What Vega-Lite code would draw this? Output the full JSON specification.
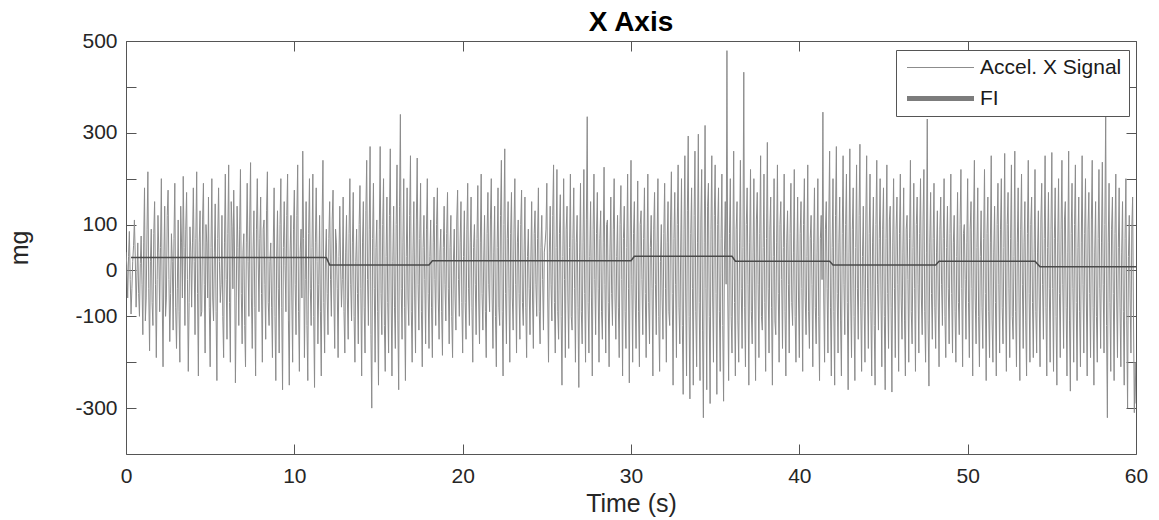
{
"$schema":"https://vega.github.io/schema/vega-lite/v6.json",
"width":1010,"height":413,
"autosize":"none",
"padding":{"left":126,"top":41,"right":23,"bottom":66},
"background":"white",
"config":{"font":"Liberation Sans","view":{"stroke":"#555555","strokeWidth":1},
"axis":{"labelFont":"Liberation Sans","titleFont":"Liberation Sans","labelColor":"#262626","titleColor":"#262626","grid":false,"domain":false,"tickColor":"#555555","tickSize":-10,"labelFontSize":21,"titleFontSize":25,"titleFontWeight":"normal"}},
"title":{"text":"X Axis","fontSize":28,"fontWeight":"bold","font":"Liberation Sans","color":"#000000","offset":-7},
"datasets":{
"fi":[{"t":0.3,"v":28},{"t":11.9,"v":28},{"t":12.1,"v":12},{"t":18.0,"v":12},{"t":18.2,"v":21},{"t":30.0,"v":21},{"t":30.2,"v":31},{"t":36.0,"v":31},{"t":36.2,"v":20},{"t":41.8,"v":20},{"t":42.0,"v":12},{"t":48.1,"v":12},{"t":48.3,"v":20},{"t":54.0,"v":20},{"t":54.3,"v":8},{"t":60,"v":8}],
"sig":[
{"t":0,"v":40},{"t":0.05,"v":10},{"t":0.1,"v":-60},{"t":0.15,"v":30},{"t":0.2,"v":85},{"t":0.25,"v":-20},{"t":0.3,"v":-95},{"t":0.35,"v":-40},{"t":0.4,"v":20},{"t":0.45,"v":55},{"t":0.5,"v":110},{"t":0.55,"v":30},{"t":0.6,"v":-80},{"t":0.65,"v":-10},{"t":0.7,"v":60},{"t":0.75,"v":-50},{"t":0.8,"v":-100},{"t":0.85,"v":15},{"t":0.9,"v":75},{"t":0.95,"v":-30},
{"t":1,"v":-140},{"t":1.05,"v":60},{"t":1.1,"v":180},{"t":1.15,"v":-110},{"t":1.2,"v":-60},{"t":1.25,"v":90},{"t":1.3,"v":215},{"t":1.35,"v":-40},{"t":1.4,"v":-175},{"t":1.45,"v":20},{"t":1.5,"v":90},{"t":1.55,"v":-70},{"t":1.6,"v":-120},{"t":1.65,"v":80},{"t":1.7,"v":150},{"t":1.75,"v":-30},{"t":1.8,"v":-190},{"t":1.85,"v":-20},{"t":1.9,"v":120},{"t":1.95,"v":40},
{"t":2,"v":-90},{"t":2.05,"v":50},{"t":2.1,"v":200},{"t":2.15,"v":-60},{"t":2.2,"v":-210},{"t":2.25,"v":30},{"t":2.3,"v":140},{"t":2.35,"v":-100},{"t":2.4,"v":-60},{"t":2.45,"v":120},{"t":2.5,"v":175},{"t":2.55,"v":-20},{"t":2.6,"v":-155},{"t":2.65,"v":-50},{"t":2.7,"v":80},{"t":2.75,"v":20},{"t":2.8,"v":-130},{"t":2.85,"v":70},{"t":2.9,"v":190},{"t":2.95,"v":-80},
{"t":3,"v":-170},{"t":3.05,"v":-40},{"t":3.1,"v":110},{"t":3.15,"v":-90},{"t":3.2,"v":-200},{"t":3.25,"v":140},{"t":3.3,"v":60},{"t":3.35,"v":-60},{"t":3.4,"v":205},{"t":3.45,"v":50},{"t":3.5,"v":-120},{"t":3.55,"v":90},{"t":3.6,"v":170},{"t":3.65,"v":-20},{"t":3.7,"v":-220},{"t":3.75,"v":-70},{"t":3.8,"v":95},{"t":3.85,"v":40},{"t":3.9,"v":-80},{"t":3.95,"v":60},
{"t":4,"v":180},{"t":4.05,"v":20},{"t":4.1,"v":-140},{"t":4.15,"v":70},{"t":4.2,"v":215},{"t":4.25,"v":-50},{"t":4.3,"v":-230},{"t":4.35,"v":60},{"t":4.4,"v":130},{"t":4.45,"v":-100},{"t":4.5,"v":-90},{"t":4.55,"v":110},{"t":4.6,"v":190},{"t":4.65,"v":-30},{"t":4.7,"v":-180},{"t":4.75,"v":100},{"t":4.8,"v":60},{"t":4.85,"v":-60},{"t":4.9,"v":160},{"t":4.95,"v":-80},
{"t":5,"v":-210},{"t":5.05,"v":50},{"t":5.1,"v":200},{"t":5.15,"v":-60},{"t":5.2,"v":-110},{"t":5.25,"v":40},{"t":5.3,"v":145},{"t":5.35,"v":-90},{"t":5.4,"v":-240},{"t":5.45,"v":70},{"t":5.5,"v":180},{"t":5.55,"v":20},{"t":5.6,"v":-70},{"t":5.65,"v":-30},{"t":5.7,"v":120},{"t":5.75,"v":-100},{"t":5.8,"v":-190},{"t":5.85,"v":60},{"t":5.9,"v":210},{"t":5.95,"v":-20},
{"t":6,"v":-150},{"t":6.05,"v":80},{"t":6.1,"v":230},{"t":6.15,"v":-70},{"t":6.2,"v":-200},{"t":6.25,"v":150},{"t":6.3,"v":95},{"t":6.35,"v":-40},{"t":6.4,"v":175},{"t":6.45,"v":30},{"t":6.5,"v":-245},{"t":6.55,"v":-60},{"t":6.6,"v":140},{"t":6.65,"v":50},{"t":6.7,"v":-120},{"t":6.75,"v":90},{"t":6.8,"v":220},{"t":6.85,"v":-50},{"t":6.9,"v":-160},{"t":6.95,"v":40},
{"t":7,"v":80},{"t":7.05,"v":-120},{"t":7.1,"v":-210},{"t":7.15,"v":60},{"t":7.2,"v":190},{"t":7.25,"v":20},{"t":7.3,"v":-100},{"t":7.35,"v":110},{"t":7.4,"v":235},{"t":7.45,"v":-60},{"t":7.5,"v":-170},{"t":7.55,"v":40},{"t":7.6,"v":130},{"t":7.65,"v":-80},{"t":7.7,"v":-230},{"t":7.75,"v":90},{"t":7.8,"v":200},{"t":7.85,"v":30},{"t":7.9,"v":-90},{"t":7.95,"v":70},
{"t":8,"v":160},{"t":8.05,"v":-50},{"t":8.1,"v":-200},{"t":8.15,"v":90},{"t":8.2,"v":110},{"t":8.25,"v":-30},{"t":8.3,"v":-150},{"t":8.35,"v":130},{"t":8.4,"v":215},{"t":8.45,"v":-70},{"t":8.5,"v":-120},{"t":8.55,"v":20},{"t":8.6,"v":60},{"t":8.65,"v":-80},{"t":8.7,"v":-190},{"t":8.75,"v":60},{"t":8.8,"v":180},{"t":8.85,"v":-100},{"t":8.9,"v":-240},{"t":8.95,"v":30},
{"t":9,"v":130},{"t":9.05,"v":-40},{"t":9.1,"v":-180},{"t":9.15,"v":100},{"t":9.2,"v":200},{"t":9.25,"v":-80},{"t":9.3,"v":-260},{"t":9.35,"v":50},{"t":9.4,"v":150},{"t":9.45,"v":10},{"t":9.5,"v":-90},{"t":9.55,"v":120},{"t":9.6,"v":210},{"t":9.65,"v":-110},{"t":9.7,"v":-250},{"t":9.75,"v":40},{"t":9.8,"v":120},{"t":9.85,"v":-60},{"t":9.9,"v":-200},{"t":9.95,"v":90},
{"t":10,"v":175},{"t":10.05,"v":-30},{"t":10.1,"v":-140},{"t":10.15,"v":120},{"t":10.2,"v":230},{"t":10.25,"v":-90},{"t":10.3,"v":-220},{"t":10.35,"v":40},{"t":10.4,"v":90},{"t":10.45,"v":-60},{"t":10.5,"v":260},{"t":10.55,"v":70},{"t":10.6,"v":-190},{"t":10.65,"v":-20},{"t":10.7,"v":150},{"t":10.75,"v":-120},{"t":10.8,"v":-240},{"t":10.85,"v":80},{"t":10.9,"v":200},{"t":10.95,"v":-40},
{"t":11,"v":-120},{"t":11.05,"v":50},{"t":11.1,"v":210},{"t":11.15,"v":-100},{"t":11.2,"v":-255},{"t":11.25,"v":60},{"t":11.3,"v":180},{"t":11.35,"v":20},{"t":11.4,"v":-160},{"t":11.45,"v":-30},{"t":11.5,"v":120},{"t":11.55,"v":-90},{"t":11.6,"v":-230},{"t":11.65,"v":110},{"t":11.7,"v":240},{"t":11.75,"v":-70},{"t":11.8,"v":-180},{"t":11.85,"v":30},{"t":11.9,"v":90},{"t":11.95,"v":-50},
{"t":12,"v":-140},{"t":12.05,"v":70},{"t":12.1,"v":150},{"t":12.15,"v":-20},{"t":12.2,"v":-100},{"t":12.25,"v":110},{"t":12.3,"v":175},{"t":12.35,"v":-60},{"t":12.4,"v":-170},{"t":12.45,"v":90},{"t":12.5,"v":60},{"t":12.55,"v":-40},{"t":12.6,"v":-190},{"t":12.65,"v":30},{"t":12.7,"v":140},{"t":12.75,"v":10},{"t":12.8,"v":-80},{"t":12.85,"v":-20},{"t":12.9,"v":160},{"t":12.95,"v":-90},
{"t":13,"v":-180},{"t":13.05,"v":40},{"t":13.1,"v":120},{"t":13.15,"v":-60},{"t":13.2,"v":-150},{"t":13.25,"v":80},{"t":13.3,"v":200},{"t":13.35,"v":-30},{"t":13.4,"v":-110},{"t":13.45,"v":60},{"t":13.5,"v":170},{"t":13.55,"v":-100},{"t":13.6,"v":-200},{"t":13.65,"v":20},{"t":13.7,"v":90},{"t":13.75,"v":-50},{"t":13.8,"v":-160},{"t":13.85,"v":100},{"t":13.9,"v":185},{"t":13.95,"v":-40},
{"t":14,"v":-230},{"t":14.05,"v":60},{"t":14.1,"v":150},{"t":14.15,"v":-80},{"t":14.2,"v":-180},{"t":14.25,"v":130},{"t":14.3,"v":240},{"t":14.35,"v":-20},{"t":14.4,"v":-120},{"t":14.45,"v":90},{"t":14.5,"v":270},{"t":14.55,"v":-140},{"t":14.6,"v":-300},{"t":14.65,"v":70},{"t":14.7,"v":190},{"t":14.75,"v":-40},{"t":14.8,"v":-200},{"t":14.85,"v":50},{"t":14.9,"v":110},{"t":14.95,"v":-90},
{"t":15,"v":-250},{"t":15.05,"v":90},{"t":15.1,"v":270},{"t":15.15,"v":-50},{"t":15.2,"v":-140},{"t":15.25,"v":100},{"t":15.3,"v":200},{"t":15.35,"v":-120},{"t":15.4,"v":-220},{"t":15.45,"v":30},{"t":15.5,"v":160},{"t":15.55,"v":-70},{"t":15.6,"v":-180},{"t":15.65,"v":120},{"t":15.7,"v":265},{"t":15.75,"v":-60},{"t":15.8,"v":-230},{"t":15.85,"v":20},{"t":15.9,"v":140},{"t":15.95,"v":-80},
{"t":16,"v":-170},{"t":16.05,"v":100},{"t":16.1,"v":230},{"t":16.15,"v":-110},{"t":16.2,"v":-260},{"t":16.25,"v":140},{"t":16.3,"v":340},{"t":16.35,"v":-40},{"t":16.4,"v":-150},{"t":16.45,"v":60},{"t":16.5,"v":200},{"t":16.55,"v":-80},{"t":16.6,"v":-240},{"t":16.65,"v":30},{"t":16.7,"v":180},{"t":16.75,"v":-60},{"t":16.8,"v":-120},{"t":16.85,"v":120},{"t":16.9,"v":250},{"t":16.95,"v":-90},
{"t":17,"v":-200},{"t":17.05,"v":40},{"t":17.1,"v":150},{"t":17.15,"v":-60},{"t":17.2,"v":-180},{"t":17.25,"v":110},{"t":17.3,"v":245},{"t":17.35,"v":-30},{"t":17.4,"v":-130},{"t":17.45,"v":70},{"t":17.5,"v":190},{"t":17.55,"v":-90},{"t":17.6,"v":-210},{"t":17.65,"v":50},{"t":17.7,"v":120},{"t":17.75,"v":-20},{"t":17.8,"v":-160},{"t":17.85,"v":90},{"t":17.9,"v":200},{"t":17.95,"v":-50},
{"t":18,"v":-170},{"t":18.05,"v":30},{"t":18.1,"v":110},{"t":18.15,"v":-80},{"t":18.2,"v":-190},{"t":18.25,"v":60},{"t":18.3,"v":160},{"t":18.35,"v":-20},{"t":18.4,"v":-120},{"t":18.45,"v":100},{"t":18.5,"v":180},{"t":18.55,"v":-60},{"t":18.6,"v":-150},{"t":18.65,"v":40},{"t":18.7,"v":90},{"t":18.75,"v":-90},{"t":18.8,"v":-185},{"t":18.85,"v":50},{"t":18.9,"v":140},{"t":18.95,"v":-30},
{"t":19,"v":-110},{"t":19.05,"v":80},{"t":19.1,"v":170},{"t":19.15,"v":-40},{"t":19.2,"v":-160},{"t":19.25,"v":50},{"t":19.3,"v":120},{"t":19.35,"v":-100},{"t":19.4,"v":-190},{"t":19.45,"v":20},{"t":19.5,"v":90},{"t":19.55,"v":-60},{"t":19.6,"v":-130},{"t":19.65,"v":110},{"t":19.7,"v":175},{"t":19.75,"v":-20},{"t":19.8,"v":-100},{"t":19.85,"v":60},{"t":19.9,"v":150},{"t":19.95,"v":-70},
{"t":20,"v":-180},{"t":20.05,"v":30},{"t":20.1,"v":130},{"t":20.15,"v":-70},{"t":20.2,"v":-150},{"t":20.25,"v":90},{"t":20.3,"v":190},{"t":20.35,"v":-40},{"t":20.4,"v":-120},{"t":20.45,"v":60},{"t":20.5,"v":160},{"t":20.55,"v":-80},{"t":20.6,"v":-200},{"t":20.65,"v":50},{"t":20.7,"v":100},{"t":20.75,"v":-30},{"t":20.8,"v":-140},{"t":20.85,"v":70},{"t":20.9,"v":185},{"t":20.95,"v":-60},
{"t":21,"v":-160},{"t":21.05,"v":60},{"t":21.1,"v":210},{"t":21.15,"v":-50},{"t":21.2,"v":-130},{"t":21.25,"v":20},{"t":21.3,"v":120},{"t":21.35,"v":-90},{"t":21.4,"v":-190},{"t":21.45,"v":80},{"t":21.5,"v":170},{"t":21.55,"v":-30},{"t":21.6,"v":-90},{"t":21.65,"v":110},{"t":21.7,"v":200},{"t":21.75,"v":-60},{"t":21.8,"v":-170},{"t":21.85,"v":40},{"t":21.9,"v":140},{"t":21.95,"v":-100},
{"t":22,"v":-210},{"t":22.05,"v":50},{"t":22.1,"v":180},{"t":22.15,"v":-80},{"t":22.2,"v":-120},{"t":22.25,"v":120},{"t":22.3,"v":240},{"t":22.35,"v":-90},{"t":22.4,"v":-230},{"t":22.45,"v":100},{"t":22.5,"v":265},{"t":22.55,"v":-50},{"t":22.6,"v":-160},{"t":22.65,"v":70},{"t":22.7,"v":150},{"t":22.75,"v":-40},{"t":22.8,"v":-200},{"t":22.85,"v":80},{"t":22.9,"v":170},{"t":22.95,"v":-60},
{"t":23,"v":-130},{"t":23.05,"v":90},{"t":23.1,"v":200},{"t":23.15,"v":-30},{"t":23.2,"v":-180},{"t":23.25,"v":60},{"t":23.3,"v":110},{"t":23.35,"v":-50},{"t":23.4,"v":-150},{"t":23.45,"v":100},{"t":23.5,"v":175},{"t":23.55,"v":-70},{"t":23.6,"v":-120},{"t":23.65,"v":40},{"t":23.7,"v":160},{"t":23.75,"v":-80},{"t":23.8,"v":-190},{"t":23.85,"v":30},{"t":23.9,"v":90},{"t":23.95,"v":-40},
{"t":24,"v":-140},{"t":24.05,"v":20},{"t":24.1,"v":150},{"t":24.15,"v":-60},{"t":24.2,"v":-170},{"t":24.25,"v":80},{"t":24.3,"v":130},{"t":24.35,"v":-30},{"t":24.4,"v":-100},{"t":24.45,"v":70},{"t":24.5,"v":180},{"t":24.55,"v":-90},{"t":24.6,"v":-160},{"t":24.65,"v":50},{"t":24.7,"v":120},{"t":24.75,"v":-20},{"t":24.8,"v":-130},{"t":24.85,"v":40},{"t":24.9,"v":60},{"t":24.95,"v":90},
{"t":25,"v":190},{"t":25.05,"v":-60},{"t":25.1,"v":-200},{"t":25.15,"v":40},{"t":25.2,"v":140},{"t":25.25,"v":-30},{"t":25.3,"v":-110},{"t":25.35,"v":120},{"t":25.4,"v":230},{"t":25.45,"v":-70},{"t":25.5,"v":-180},{"t":25.55,"v":50},{"t":25.6,"v":220},{"t":25.65,"v":-90},{"t":25.7,"v":-150},{"t":25.75,"v":80},{"t":25.8,"v":165},{"t":25.85,"v":-100},{"t":25.9,"v":-250},{"t":25.95,"v":30},
{"t":26,"v":200},{"t":26.05,"v":-20},{"t":26.1,"v":-190},{"t":26.15,"v":90},{"t":26.2,"v":140},{"t":26.25,"v":-60},{"t":26.3,"v":-170},{"t":26.35,"v":50},{"t":26.4,"v":210},{"t":26.45,"v":-100},{"t":26.5,"v":-130},{"t":26.55,"v":70},{"t":26.6,"v":180},{"t":26.65,"v":-40},{"t":26.7,"v":-200},{"t":26.75,"v":60},{"t":26.8,"v":120},{"t":26.85,"v":-80},{"t":26.9,"v":-255},{"t":26.95,"v":40},
{"t":27,"v":190},{"t":27.05,"v":-90},{"t":27.1,"v":-160},{"t":27.15,"v":60},{"t":27.2,"v":220},{"t":27.25,"v":-50},{"t":27.3,"v":-200},{"t":27.35,"v":110},{"t":27.4,"v":335},{"t":27.45,"v":-70},{"t":27.5,"v":-180},{"t":27.55,"v":30},{"t":27.6,"v":150},{"t":27.65,"v":-60},{"t":27.7,"v":-230},{"t":27.75,"v":90},{"t":27.8,"v":210},{"t":27.85,"v":-20},{"t":27.9,"v":-140},{"t":27.95,"v":80},
{"t":28,"v":170},{"t":28.05,"v":-40},{"t":28.1,"v":-200},{"t":28.15,"v":70},{"t":28.2,"v":130},{"t":28.25,"v":-90},{"t":28.3,"v":-150},{"t":28.35,"v":60},{"t":28.4,"v":225},{"t":28.45,"v":-30},{"t":28.5,"v":-180},{"t":28.55,"v":100},{"t":28.6,"v":110},{"t":28.65,"v":-70},{"t":28.7,"v":-210},{"t":28.75,"v":40},{"t":28.8,"v":160},{"t":28.85,"v":-50},{"t":28.9,"v":-120},{"t":28.95,"v":90},
{"t":29,"v":200},{"t":29.05,"v":-60},{"t":29.1,"v":-150},{"t":29.15,"v":30},{"t":29.2,"v":120},{"t":29.25,"v":-80},{"t":29.3,"v":-190},{"t":29.35,"v":100},{"t":29.4,"v":185},{"t":29.45,"v":-20},{"t":29.5,"v":-230},{"t":29.55,"v":70},{"t":29.6,"v":140},{"t":29.65,"v":-90},{"t":29.7,"v":-170},{"t":29.75,"v":50},{"t":29.8,"v":210},{"t":29.85,"v":-40},{"t":29.9,"v":-245},{"t":29.95,"v":60},
{"t":30,"v":240},{"t":30.05,"v":-30},{"t":30.1,"v":-200},{"t":30.15,"v":80},{"t":30.2,"v":150},{"t":30.25,"v":-60},{"t":30.3,"v":-170},{"t":30.35,"v":40},{"t":30.4,"v":195},{"t":30.45,"v":-90},{"t":30.5,"v":-210},{"t":30.55,"v":100},{"t":30.6,"v":130},{"t":30.65,"v":-20},{"t":30.7,"v":-140},{"t":30.75,"v":70},{"t":30.8,"v":180},{"t":30.85,"v":-50},{"t":30.9,"v":-190},{"t":30.95,"v":30},
{"t":31,"v":210},{"t":31.05,"v":-70},{"t":31.1,"v":-160},{"t":31.15,"v":50},{"t":31.2,"v":120},{"t":31.25,"v":-40},{"t":31.3,"v":-230},{"t":31.35,"v":90},{"t":31.4,"v":170},{"t":31.45,"v":-30},{"t":31.5,"v":-140},{"t":31.55,"v":60},{"t":31.6,"v":200},{"t":31.65,"v":-100},{"t":31.7,"v":-220},{"t":31.75,"v":20},{"t":31.8,"v":100},{"t":31.85,"v":-60},{"t":31.9,"v":-150},{"t":31.95,"v":80},
{"t":32,"v":190},{"t":32.05,"v":-40},{"t":32.1,"v":-200},{"t":32.15,"v":60},{"t":32.2,"v":150},{"t":32.25,"v":-90},{"t":32.3,"v":-120},{"t":32.35,"v":110},{"t":32.4,"v":215},{"t":32.45,"v":-50},{"t":32.5,"v":-250},{"t":32.55,"v":70},{"t":32.6,"v":170},{"t":32.65,"v":-30},{"t":32.7,"v":-190},{"t":32.75,"v":100},{"t":32.8,"v":230},{"t":32.85,"v":-80},{"t":32.9,"v":-160},{"t":32.95,"v":40},
{"t":33,"v":200},{"t":33.05,"v":-120},{"t":33.1,"v":-270},{"t":33.15,"v":90},{"t":33.2,"v":250},{"t":33.25,"v":-60},{"t":33.3,"v":-230},{"t":33.35,"v":130},{"t":33.4,"v":293},{"t":33.45,"v":-100},{"t":33.5,"v":-280},{"t":33.55,"v":80},{"t":33.6,"v":180},{"t":33.65,"v":-40},{"t":33.7,"v":-250},{"t":33.75,"v":120},{"t":33.8,"v":260},{"t":33.85,"v":-90},{"t":33.9,"v":-210},{"t":33.95,"v":60},
{"t":34,"v":297},{"t":34.05,"v":-70},{"t":34.1,"v":-240},{"t":34.15,"v":110},{"t":34.2,"v":220},{"t":34.25,"v":-130},{"t":34.3,"v":-321},{"t":34.35,"v":60},{"t":34.4,"v":316},{"t":34.45,"v":-40},{"t":34.5,"v":-260},{"t":34.55,"v":140},{"t":34.6,"v":190},{"t":34.65,"v":-100},{"t":34.7,"v":-290},{"t":34.75,"v":90},{"t":34.8,"v":250},{"t":34.85,"v":-60},{"t":34.9,"v":-200},{"t":34.95,"v":120},
{"t":35,"v":230},{"t":35.05,"v":-50},{"t":35.1,"v":-270},{"t":35.15,"v":100},{"t":35.2,"v":180},{"t":35.25,"v":-90},{"t":35.3,"v":-220},{"t":35.35,"v":70},{"t":35.4,"v":210},{"t":35.45,"v":-120},{"t":35.5,"v":-285},{"t":35.55,"v":40},{"t":35.6,"v":150},{"t":35.65,"v":-30},{"t":35.7,"v":479},{"t":35.75,"v":-60},{"t":35.8,"v":-240},{"t":35.85,"v":80},{"t":35.9,"v":200},{"t":35.95,"v":-100},
{"t":36,"v":-180},{"t":36.05,"v":40},{"t":36.1,"v":260},{"t":36.15,"v":-70},{"t":36.2,"v":-230},{"t":36.25,"v":90},{"t":36.3,"v":150},{"t":36.35,"v":-110},{"t":36.4,"v":-200},{"t":36.45,"v":60},{"t":36.5,"v":240},{"t":36.55,"v":-40},{"t":36.6,"v":-170},{"t":36.65,"v":50},{"t":36.7,"v":432},{"t":36.75,"v":-80},{"t":36.8,"v":-210},{"t":36.85,"v":100},{"t":36.9,"v":180},{"t":36.95,"v":-30},
{"t":37,"v":-250},{"t":37.05,"v":60},{"t":37.1,"v":220},{"t":37.15,"v":-90},{"t":37.2,"v":-160},{"t":37.25,"v":40},{"t":37.3,"v":200},{"t":37.35,"v":-60},{"t":37.4,"v":-240},{"t":37.45,"v":110},{"t":37.5,"v":170},{"t":37.55,"v":-30},{"t":37.6,"v":-190},{"t":37.65,"v":80},{"t":37.7,"v":250},{"t":37.75,"v":-100},{"t":37.8,"v":-130},{"t":37.85,"v":50},{"t":37.9,"v":210},{"t":37.95,"v":-70},
{"t":38,"v":-220},{"t":38.05,"v":70},{"t":38.1,"v":279},{"t":38.15,"v":-40},{"t":38.2,"v":-180},{"t":38.25,"v":90},{"t":38.3,"v":160},{"t":38.35,"v":-80},{"t":38.4,"v":-250},{"t":38.45,"v":30},{"t":38.5,"v":200},{"t":38.55,"v":-110},{"t":38.6,"v":-140},{"t":38.65,"v":60},{"t":38.7,"v":230},{"t":38.75,"v":-50},{"t":38.8,"v":-200},{"t":38.85,"v":100},{"t":38.9,"v":150},{"t":38.95,"v":-20},
{"t":39,"v":-170},{"t":39.05,"v":50},{"t":39.1,"v":210},{"t":39.15,"v":-90},{"t":39.2,"v":-230},{"t":39.25,"v":60},{"t":39.3,"v":130},{"t":39.35,"v":-30},{"t":39.4,"v":-180},{"t":39.45,"v":80},{"t":39.5,"v":190},{"t":39.55,"v":-70},{"t":39.6,"v":-120},{"t":39.65,"v":40},{"t":39.7,"v":220},{"t":39.75,"v":-100},{"t":39.8,"v":-200},{"t":39.85,"v":20},{"t":39.9,"v":160},{"t":39.95,"v":-60},
{"t":40,"v":-190},{"t":40.05,"v":80},{"t":40.1,"v":150},{"t":40.15,"v":-40},{"t":40.2,"v":-220},{"t":40.25,"v":100},{"t":40.3,"v":200},{"t":40.35,"v":-60},{"t":40.4,"v":-140},{"t":40.45,"v":30},{"t":40.5,"v":230},{"t":40.55,"v":-90},{"t":40.6,"v":-170},{"t":40.65,"v":70},{"t":40.7,"v":120},{"t":40.75,"v":-30},{"t":40.8,"v":-210},{"t":40.85,"v":60},{"t":40.9,"v":180},{"t":40.95,"v":-80},
{"t":41,"v":-160},{"t":41.05,"v":40},{"t":41.1,"v":200},{"t":41.15,"v":-100},{"t":41.2,"v":-240},{"t":41.25,"v":70},{"t":41.3,"v":120},{"t":41.35,"v":-20},{"t":41.4,"v":345},{"t":41.45,"v":-60},{"t":41.5,"v":-200},{"t":41.55,"v":90},{"t":41.6,"v":150},{"t":41.65,"v":-40},{"t":41.7,"v":-180},{"t":41.75,"v":110},{"t":41.8,"v":260},{"t":41.85,"v":-80},{"t":41.9,"v":-230},{"t":41.95,"v":50},
{"t":42,"v":200},{"t":42.05,"v":-90},{"t":42.1,"v":-250},{"t":42.15,"v":120},{"t":42.2,"v":270},{"t":42.25,"v":-50},{"t":42.3,"v":-180},{"t":42.35,"v":60},{"t":42.4,"v":160},{"t":42.45,"v":-110},{"t":42.5,"v":-230},{"t":42.55,"v":80},{"t":42.6,"v":250},{"t":42.65,"v":-30},{"t":42.7,"v":-140},{"t":42.75,"v":100},{"t":42.8,"v":210},{"t":42.85,"v":-70},{"t":42.9,"v":-260},{"t":42.95,"v":40},
{"t":43,"v":265},{"t":43.05,"v":-60},{"t":43.1,"v":-190},{"t":43.15,"v":90},{"t":43.2,"v":180},{"t":43.25,"v":-100},{"t":43.3,"v":-240},{"t":43.35,"v":50},{"t":43.4,"v":230},{"t":43.45,"v":-40},{"t":43.5,"v":-150},{"t":43.55,"v":120},{"t":43.6,"v":275},{"t":43.65,"v":-80},{"t":43.7,"v":-220},{"t":43.75,"v":30},{"t":43.8,"v":140},{"t":43.85,"v":-70},{"t":43.9,"v":-200},{"t":43.95,"v":110},
{"t":44,"v":250},{"t":44.05,"v":-40},{"t":44.1,"v":-170},{"t":44.15,"v":80},{"t":44.2,"v":210},{"t":44.25,"v":-90},{"t":44.3,"v":-230},{"t":44.35,"v":60},{"t":44.4,"v":160},{"t":44.45,"v":-120},{"t":44.5,"v":-250},{"t":44.55,"v":100},{"t":44.6,"v":240},{"t":44.65,"v":-30},{"t":44.7,"v":-130},{"t":44.75,"v":70},{"t":44.8,"v":200},{"t":44.85,"v":-60},{"t":44.9,"v":-210},{"t":44.95,"v":90},
{"t":45,"v":180},{"t":45.05,"v":-100},{"t":45.1,"v":-260},{"t":45.15,"v":70},{"t":45.2,"v":230},{"t":45.25,"v":-50},{"t":45.3,"v":-170},{"t":45.35,"v":110},{"t":45.4,"v":140},{"t":45.45,"v":-80},{"t":45.5,"v":-265},{"t":45.55,"v":60},{"t":45.6,"v":200},{"t":45.65,"v":-40},{"t":45.7,"v":-190},{"t":45.75,"v":90},{"t":45.8,"v":160},{"t":45.85,"v":-30},{"t":45.9,"v":-220},{"t":45.95,"v":80},
{"t":46,"v":210},{"t":46.05,"v":-60},{"t":46.1,"v":-150},{"t":46.15,"v":40},{"t":46.2,"v":180},{"t":46.25,"v":-110},{"t":46.3,"v":-230},{"t":46.35,"v":90},{"t":46.4,"v":120},{"t":46.45,"v":-20},{"t":46.5,"v":-200},{"t":46.55,"v":70},{"t":46.6,"v":240},{"t":46.65,"v":-90},{"t":46.7,"v":-160},{"t":46.75,"v":50},{"t":46.8,"v":190},{"t":46.85,"v":-40},{"t":46.9,"v":-220},{"t":46.95,"v":100},
{"t":47,"v":160},{"t":47.05,"v":-30},{"t":47.1,"v":-180},{"t":47.15,"v":80},{"t":47.2,"v":200},{"t":47.25,"v":-60},{"t":47.3,"v":-140},{"t":47.35,"v":110},{"t":47.4,"v":220},{"t":47.45,"v":-90},{"t":47.5,"v":-200},{"t":47.55,"v":40},{"t":47.6,"v":330},{"t":47.65,"v":-110},{"t":47.7,"v":-252},{"t":47.75,"v":60},{"t":47.8,"v":170},{"t":47.85,"v":-50},{"t":47.9,"v":-150},{"t":47.95,"v":70},
{"t":48,"v":190},{"t":48.05,"v":-80},{"t":48.1,"v":-170},{"t":48.15,"v":40},{"t":48.2,"v":130},{"t":48.25,"v":-60},{"t":48.3,"v":-210},{"t":48.35,"v":90},{"t":48.4,"v":160},{"t":48.45,"v":-30},{"t":48.5,"v":-120},{"t":48.55,"v":70},{"t":48.6,"v":200},{"t":48.65,"v":-100},{"t":48.7,"v":-190},{"t":48.75,"v":50},{"t":48.8,"v":140},{"t":48.85,"v":-40},{"t":48.9,"v":-160},{"t":48.95,"v":80},
{"t":49,"v":210},{"t":49.05,"v":-50},{"t":49.1,"v":-180},{"t":49.15,"v":60},{"t":49.2,"v":120},{"t":49.25,"v":-90},{"t":49.3,"v":-200},{"t":49.35,"v":30},{"t":49.4,"v":170},{"t":49.45,"v":-70},{"t":49.5,"v":-140},{"t":49.55,"v":100},{"t":49.6,"v":220},{"t":49.65,"v":-40},{"t":49.7,"v":-210},{"t":49.75,"v":80},{"t":49.8,"v":100},{"t":49.85,"v":-20},{"t":49.9,"v":-150},{"t":49.95,"v":60},
{"t":50,"v":200},{"t":50.05,"v":-70},{"t":50.1,"v":-190},{"t":50.15,"v":90},{"t":50.2,"v":150},{"t":50.25,"v":-40},{"t":50.3,"v":-230},{"t":50.35,"v":110},{"t":50.4,"v":240},{"t":50.45,"v":-60},{"t":50.5,"v":-160},{"t":50.55,"v":50},{"t":50.6,"v":180},{"t":50.65,"v":-100},{"t":50.7,"v":-210},{"t":50.75,"v":30},{"t":50.8,"v":130},{"t":50.85,"v":-80},{"t":50.9,"v":-170},{"t":50.95,"v":70},
{"t":51,"v":220},{"t":51.05,"v":-50},{"t":51.1,"v":-240},{"t":51.15,"v":80},{"t":51.2,"v":160},{"t":51.25,"v":-90},{"t":51.3,"v":-190},{"t":51.35,"v":60},{"t":51.4,"v":250},{"t":51.45,"v":-110},{"t":51.5,"v":-200},{"t":51.55,"v":40},{"t":51.6,"v":140},{"t":51.65,"v":-70},{"t":51.7,"v":-230},{"t":51.75,"v":100},{"t":51.8,"v":190},{"t":51.85,"v":-30},{"t":51.9,"v":-180},{"t":51.95,"v":90},
{"t":52,"v":200},{"t":52.05,"v":-80},{"t":52.1,"v":-160},{"t":52.15,"v":50},{"t":52.2,"v":255},{"t":52.25,"v":-60},{"t":52.3,"v":-220},{"t":52.35,"v":100},{"t":52.4,"v":170},{"t":52.45,"v":-40},{"t":52.5,"v":-190},{"t":52.55,"v":70},{"t":52.6,"v":230},{"t":52.65,"v":-100},{"t":52.7,"v":-150},{"t":52.75,"v":30},{"t":52.8,"v":260},{"t":52.85,"v":-90},{"t":52.9,"v":-210},{"t":52.95,"v":60},
{"t":53,"v":180},{"t":53.05,"v":-60},{"t":53.1,"v":-240},{"t":53.15,"v":90},{"t":53.2,"v":210},{"t":53.25,"v":-30},{"t":53.3,"v":-170},{"t":53.35,"v":60},{"t":53.4,"v":150},{"t":53.45,"v":-110},{"t":53.5,"v":-230},{"t":53.55,"v":80},{"t":53.6,"v":240},{"t":53.65,"v":-50},{"t":53.7,"v":-200},{"t":53.75,"v":100},{"t":53.8,"v":160},{"t":53.85,"v":-70},{"t":53.9,"v":-190},{"t":53.95,"v":40},
{"t":54,"v":220},{"t":54.05,"v":-90},{"t":54.1,"v":-180},{"t":54.15,"v":40},{"t":54.2,"v":130},{"t":54.25,"v":-60},{"t":54.3,"v":-210},{"t":54.35,"v":110},{"t":54.4,"v":190},{"t":54.45,"v":-30},{"t":54.5,"v":-150},{"t":54.55,"v":70},{"t":54.6,"v":250},{"t":54.65,"v":-80},{"t":54.7,"v":-230},{"t":54.75,"v":50},{"t":54.8,"v":170},{"t":54.85,"v":-40},{"t":54.9,"v":-200},{"t":54.95,"v":90},
{"t":55,"v":257},{"t":55.05,"v":-40},{"t":55.1,"v":-220},{"t":55.15,"v":70},{"t":55.2,"v":180},{"t":55.25,"v":-100},{"t":55.3,"v":-250},{"t":55.35,"v":60},{"t":55.4,"v":200},{"t":55.45,"v":-50},{"t":55.5,"v":-190},{"t":55.55,"v":90},{"t":55.6,"v":240},{"t":55.65,"v":-30},{"t":55.7,"v":-170},{"t":55.75,"v":110},{"t":55.8,"v":150},{"t":55.85,"v":-80},{"t":55.9,"v":-230},{"t":55.95,"v":40},
{"t":56,"v":260},{"t":56.05,"v":-110},{"t":56.1,"v":-263},{"t":56.15,"v":80},{"t":56.2,"v":190},{"t":56.25,"v":-40},{"t":56.3,"v":-200},{"t":56.35,"v":100},{"t":56.4,"v":230},{"t":56.45,"v":-70},{"t":56.5,"v":-240},{"t":56.55,"v":50},{"t":56.6,"v":160},{"t":56.65,"v":-90},{"t":56.7,"v":-210},{"t":56.75,"v":60},{"t":56.8,"v":250},{"t":56.85,"v":-30},{"t":56.9,"v":-180},{"t":56.95,"v":80},
{"t":57,"v":200},{"t":57.05,"v":-60},{"t":57.1,"v":-230},{"t":57.15,"v":90},{"t":57.2,"v":170},{"t":57.25,"v":-50},{"t":57.3,"v":-190},{"t":57.35,"v":110},{"t":57.4,"v":240},{"t":57.45,"v":-80},{"t":57.5,"v":-250},{"t":57.55,"v":40},{"t":57.6,"v":150},{"t":57.65,"v":-100},{"t":57.7,"v":-200},{"t":57.75,"v":70},{"t":57.8,"v":220},{"t":57.85,"v":-40},{"t":57.9,"v":-170},{"t":57.95,"v":60},
{"t":58,"v":236},{"t":58.05,"v":-30},{"t":58.1,"v":-180},{"t":58.15,"v":100},{"t":58.2,"v":340},{"t":58.25,"v":-120},{"t":58.3,"v":-321},{"t":58.35,"v":60},{"t":58.4,"v":190},{"t":58.45,"v":-70},{"t":58.5,"v":-220},{"t":58.55,"v":90},{"t":58.6,"v":160},{"t":58.65,"v":-50},{"t":58.7,"v":-240},{"t":58.75,"v":80},{"t":58.8,"v":210},{"t":58.85,"v":-60},{"t":58.9,"v":-190},{"t":58.95,"v":50},
{"t":59,"v":180},{"t":59.05,"v":-80},{"t":59.1,"v":-210},{"t":59.15,"v":40},{"t":59.2,"v":150},{"t":59.25,"v":-90},{"t":59.3,"v":-250},{"t":59.35,"v":70},{"t":59.4,"v":200},{"t":59.45,"v":-110},{"t":59.5,"v":-300},{"t":59.55,"v":30},{"t":59.6,"v":120},{"t":59.65,"v":-60},{"t":59.7,"v":-180},{"t":59.75,"v":90},{"t":59.8,"v":160},{"t":59.85,"v":-100},{"t":59.9,"v":-310},{"t":59.95,"v":-200},
{"t":60,"v":-290}
]},
"layer":[
{"data":{"name":"sig"},"mark":{"type":"line","strokeWidth":1,"clip":true},
"encoding":{
"x":{"field":"t","type":"quantitative","scale":{"domain":[0,60],"nice":false,"zero":false},
"axis":{"orient":"bottom","values":[0,10,20,30,40,50,60],"title":"Time (s)","labelPadding":21,"titlePadding":5,"labelFlush":false}},
"y":{"field":"v","type":"quantitative","scale":{"domain":[-400,500],"nice":false},
"axis":{"orient":"left","values":[-300,-200,-100,0,100,200,300,400,500],"labelExpr":"datum.value==400||datum.value==200||datum.value==-200 ? '' : '' + datum.value","title":"mg","labelPadding":19,"titleAngle":-90,"titleX":-94,"titleAlign":"center","titleBaseline":"bottom"}},
"color":{"datum":"Accel. X Signal","type":"nominal","scale":{"domain":["Accel. X Signal","FI"],"range":["#8c8c8c","#4a4a4a"]},
"legend":{"orient":"none","legendX":770,"legendY":9,"title":null,"symbolType":"stroke","symbolSize":4489,"symbolStrokeWidth":1,"symbolOffset":27,"labelFont":"Liberation Sans","labelFontSize":21,"labelColor":"#1a1a1a","labelOffset":29,"padding":7,"rowPadding":9,"strokeColor":"#555555","fillColor":"white","cornerRadius":0,
"encode":{"symbols":{"update":{"strokeWidth":{"signal":"datum.value == 'FI' ? 5 : 1"},"strokeOpacity":{"signal":"datum.value == 'FI' ? 0.72 : 1"}}}}}}
}},
{"data":{"name":"fi"},"mark":{"type":"line","strokeWidth":1.5},
"encoding":{
"x":{"field":"t","type":"quantitative","axis":{"orient":"top","values":[0,10,20,30,40,50,60],"labels":false,"title":null}},
"y":{"field":"v","type":"quantitative","axis":{"orient":"right","values":[-300,-200,-100,0,100,200,300,400,500],"labels":false,"title":null}},
"color":{"datum":"FI","type":"nominal"}
}}
],
"resolve":{"axis":{"x":"independent","y":"independent"}}
}
